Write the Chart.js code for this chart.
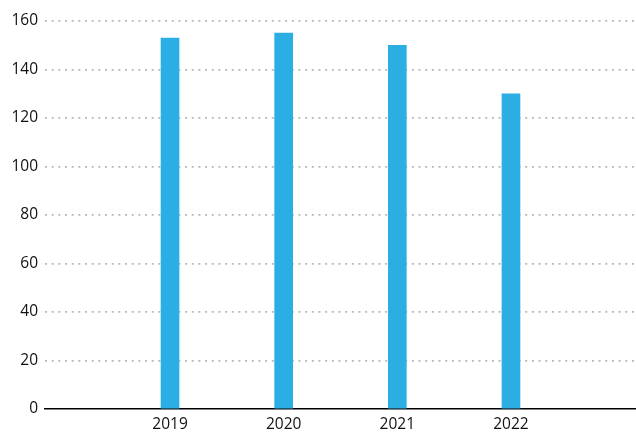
<!DOCTYPE html>
<html>
<head>
<meta charset="utf-8">
<script src="https://cdn.jsdelivr.net/npm/chart.js@4/dist/chart.umd.min.js"></script>
<style>
html,body{margin:0;padding:0;background:#fff;}
#wrap{width:636px;height:435px;position:relative;}
</style>
</head>
<body>
<div id="wrap"><canvas id="c" width="636" height="435"></canvas></div>
<script>
const years = [2019, 2020, 2021, 2022];
const values = [153, 155, 150, 130];
const yTicks = [0, 20, 40, 60, 80, 100, 120, 140, 160];

const textColor = '#111111';
const fontSpec = {family: '"Open Sans", "Noto Sans", sans-serif', size: 15.5};

new Chart(document.getElementById('c'), {
  type: 'bar',
  data: {
    datasets: [{
      data: years.map((y, i) => ({x: y, y: values[i]})),
      backgroundColor: '#2aaee4',
      borderWidth: 0,
      barThickness: 18
    }]
  },
  options: {
    responsive: false,
    animation: false,
    layout: {padding: {top: 21, right: 0, bottom: 0, left: 0}},
    plugins: {legend: {display: false}, tooltip: {enabled: false}},
    scales: {
      x: {
        type: 'linear',
        offset: false,
        min: 2017.9,
        max: 2023.1,
        afterBuildTicks: s => { s.ticks = years.map(v => ({value: v})); },
        afterFit: s => { s.height = 26; },
        ticks: {color: textColor, font: fontSpec, padding: 6, callback: v => String(v), maxRotation: 0, autoSkip: false},
        grid: {display: false, drawTicks: false, offset: false},
        border: {display: true, color: '#000', width: 1.5}
      },
      y: {
        min: 0,
        max: 160,
        afterBuildTicks: s => { s.ticks = yTicks.map(v => ({value: v})); },
        afterFit: s => { s.width = 45; },
        ticks: {color: textColor, font: fontSpec, padding: 7},
        grid: {
          color: ctx => (ctx.tick && ctx.tick.value === 0) ? 'rgba(0,0,0,0)' : '#b8b8b8',
          lineWidth: 1.8,
          drawTicks: false
        },
        border: {display: false, dash: [2, 4.67]}
      }
    }
  }
});
</script>
</body>
</html>
